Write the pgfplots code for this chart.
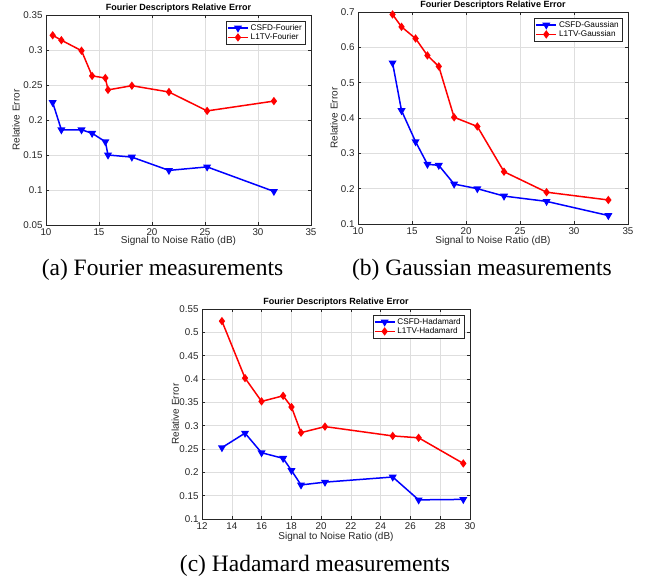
\documentclass[border=0pt]{standalone}
\usepackage{fontspec}
\setmainfont{Liberation Sans}
\newfontfamily\capfont{Liberation Serif}
\usepackage{pgfplots}
\pgfplotsset{compat=1.18}
\definecolor{axgray}{gray}{0.15}
\definecolor{gridgray}{gray}{0.87}
\definecolor{mblue}{rgb}{0,0,1}
\definecolor{mred}{rgb}{1,0,0}
\pgfplotsset{
  mstyle/.style={
    scale only axis,
    axis line style={axgray, line width=0.6pt},
    tick style={axgray, line width=0.5pt},
    major tick length=3pt,
    tick align=inside,
    grid=major,
    major grid style={gridgray, line width=0.5pt},
    tick label style={font=\fontsize{9.8}{10}\selectfont, text=axgray},
    /pgf/number format/assume math mode=true,
    /pgf/number format/fixed,
    label style={font=\fontsize{10}{11}\selectfont, text=axgray},
    every axis title shift=0pt,
    title style={font=\bfseries\fontsize{9}{10}\selectfont, at={(0.5,1)}, anchor=base, yshift=4.5pt},
    legend cell align=left,
    legend style={font=\fontsize{8.2}{9}\selectfont, at={(1,1)}, anchor=north east, xshift=-6pt, yshift=-6pt, draw=axgray, line width=0.5pt, inner sep=1pt, row sep=-2pt},
    legend image code/.code={\draw[##1,mark repeat=2,mark phase=2] plot coordinates {(0pt,0pt)(10pt,0pt)(20pt,0pt)};},
    every axis plot/.append style={line width=1.5pt},
    title={Fourier Descriptors Relative Error},
    xlabel={Signal to Noise Ratio (dB)},
    ylabel={Relative Error},
  },
  csfd/.style={color=mblue, mark=triangle*, mark options={rotate=180, solid}, mark size=3.2pt},
  l1tv/.style={color=mred, mark=diamond*, mark options={solid}, mark size=3pt},
}
\begin{document}
\begin{tikzpicture}[x=1pt,y=1pt]
\useasboundingbox (0,0) rectangle (646,579);
% (a)
\begin{axis}[mstyle, at={(46pt,354pt)}, anchor=south west, width=265pt, height=210pt,
  xmin=10, xmax=35, ymin=0.05, ymax=0.35,
  xtick={10,15,20,25,30,35}, ytick={0.05,0.1,0.15,0.2,0.25,0.3,0.35},
  xlabel style={at={(axis description cs:0.5,-0.078)}, anchor=center},
  ylabel style={at={(axis description cs:-0.113,0.5)}, anchor=center}]
\addplot[csfd] coordinates {(10.63,0.225)(11.45,0.186)(13.35,0.186)(14.35,0.181)(15.6,0.169)(15.85,0.150)(18.1,0.147)(21.6,0.128)(25.2,0.133)(31.5,0.098)};
\addlegendentry{CSFD-Fourier}
\addplot[l1tv] coordinates {(10.63,0.321)(11.45,0.314)(13.35,0.299)(14.35,0.263)(15.6,0.260)(15.85,0.243)(18.1,0.249)(21.6,0.240)(25.2,0.213)(31.5,0.227)};
\addlegendentry{L1TV-Fourier}
\end{axis}
% (b)
\begin{axis}[mstyle, at={(358pt,355pt)}, anchor=south west, width=270pt, height=212pt,
  xmin=10, xmax=35, ymin=0.1, ymax=0.7,
  xtick={10,15,20,25,30,35}, ytick={0.1,0.2,0.3,0.4,0.5,0.6,0.7},
  xlabel style={at={(axis description cs:0.5,-0.078)}, anchor=center},
  ylabel style={at={(axis description cs:-0.089,0.5)}, anchor=center}]
\addplot[csfd] coordinates {(13.2,0.556)(14.03,0.421)(15.33,0.333)(16.43,0.269)(17.48,0.266)(18.9,0.213)(21.05,0.200)(23.52,0.179)(27.46,0.164)(33.18,0.124)};
\addlegendentry{CSFD-Gaussian}
\addplot[l1tv] coordinates {(13.2,0.693)(14.03,0.658)(15.33,0.625)(16.43,0.577)(17.48,0.546)(18.9,0.402)(21.05,0.376)(23.52,0.248)(27.46,0.190)(33.18,0.168)};
\addlegendentry{L1TV-Gaussian}
\end{axis}
% (c)
\begin{axis}[mstyle, at={(202pt,60pt)}, anchor=south west, width=268pt, height=210pt,
  xmin=12, xmax=30, ymin=0.1, ymax=0.55,
  xtick={12,14,16,18,20,22,24,26,28,30}, ytick={0.1,0.15,0.2,0.25,0.3,0.35,0.4,0.45,0.5,0.55},
  xlabel style={at={(axis description cs:0.5,-0.085)}, anchor=center},
  ylabel style={at={(axis description cs:-0.10,0.5)}, anchor=center}]
\addplot[csfd] coordinates {(13.34,0.253)(14.89,0.284)(16.0,0.242)(17.45,0.230)(18.01,0.204)(18.65,0.173)(20.26,0.179)(24.81,0.190)(26.55,0.141)(29.55,0.142)};
\addlegendentry{CSFD-Hadamard}
\addplot[l1tv] coordinates {(13.34,0.524)(14.89,0.402)(16.0,0.352)(17.45,0.364)(18.01,0.340)(18.65,0.285)(20.26,0.298)(24.81,0.278)(26.55,0.274)(29.55,0.219)};
\addlegendentry{L1TV-Hadamard}
\end{axis}
\node[anchor=base, font=\capfont\fontsize{23.5}{26}\selectfont, inner sep=0pt] at (162.5,303) {(a) Fourier measurements};
\node[anchor=base, font=\capfont\fontsize{23.5}{26}\selectfont, inner sep=0pt] at (482,303) {(b) Gaussian measurements};
\node[anchor=base, font=\capfont\fontsize{23.5}{26}\selectfont, inner sep=0pt] at (315,7) {(c) Hadamard measurements};
\end{tikzpicture}
\end{document}
